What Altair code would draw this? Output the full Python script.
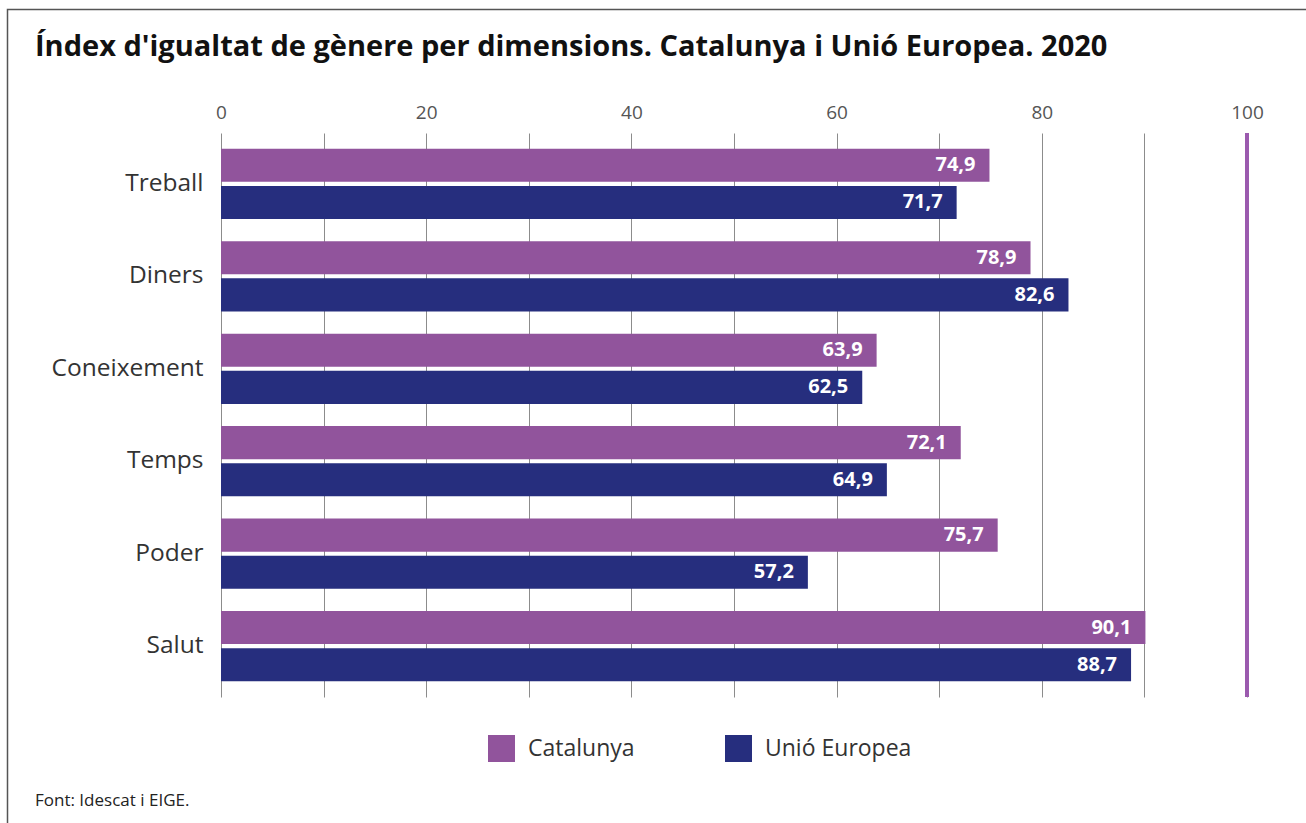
import altair as alt
import pandas as pd

dims = ["Treball", "Diners", "Coneixement", "Temps", "Poder", "Salut"]
series = ["Catalunya", "Unió Europea"]
catalunya = [74.9, 78.9, 63.9, 72.1, 75.7, 90.1]
ue = [71.7, 82.6, 62.5, 64.9, 57.2, 88.7]
x_ticks = [0, 10, 20, 30, 40, 50, 60, 70, 80, 90, 100]
ref_line = [100]
title_text = "Índex d'igualtat de gènere per dimensions. Catalunya i Unió Europea. 2020"
footer_text = "Font: Idescat i EIGE."

rows = []
for d, a, b in zip(dims, catalunya, ue):
    rows.append({"dim": d, "serie": series[0], "v": a, "lab": f"{a:.1f}".replace(".", ",")})
    rows.append({"dim": d, "serie": series[1], "v": b, "lab": f"{b:.1f}".replace(".", ",")})
df = pd.DataFrame(rows)

FONT = "Open Sans"
W, H = 1026, 564
PL, PT = 221, 133

xscale = alt.Scale(domain=[0, 100], nice=False, zero=True)
ysc = alt.Scale(paddingInner=0.24, paddingOuter=0.17)

base = alt.Chart(df)

bars = base.mark_bar().encode(
    x=alt.X("v:Q", scale=xscale,
            axis=alt.Axis(orient="top", values=x_ticks, title=None, domain=False, ticks=False,
                          labelExpr="datum.value % 20 == 0 ? datum.label : ''",
                          labelFlush=False, labelOverlap=False,
                          labelFontSize=19, labelColor="#555555", labelFont=FONT,
                          labelPadding=11, grid=True, gridColor="#8c8c8c", gridWidth=1)),
    y=alt.Y("dim:N", sort=dims, scale=ysc,
            axis=alt.Axis(title=None, domain=False, ticks=False, labelFontSize=24.5,
                          labelColor="#333333", labelFont=FONT, labelPadding=18)),
    yOffset=alt.YOffset("serie:N", sort=series, scale=alt.Scale(paddingInner=0.11)),
    color=alt.Color("serie:N", sort=series,
                    scale=alt.Scale(domain=series, range=["#91549c", "#262e7e"]),
                    legend=alt.Legend(title=None, orient="none", legendX=267, legendY=602,
                                      direction="horizontal", symbolType="square",
                                      symbolSize=729, symbolStrokeWidth=0, symbolOpacity=1,
                                      labelFontSize=23, labelColor="#333333", labelFont=FONT,
                                      labelOffset=13, columnPadding=90)),
)

labels = base.mark_text(align="right", baseline="middle", dx=-14, color="white",
                        fontWeight="bold", fontSize=20, font=FONT).encode(
    x=alt.X("v:Q", scale=xscale),
    y=alt.Y("dim:N", sort=dims, scale=ysc),
    yOffset=alt.YOffset("serie:N", sort=series, scale=alt.Scale(paddingInner=0.11)),
    text="lab:N",
)

rule = alt.Chart(pd.DataFrame({"v": ref_line})).mark_rule(color="#9b5aae", strokeWidth=4).encode(
    x=alt.X("v:Q", scale=xscale)
)

tdf = pd.DataFrame({"t": [title_text]})
title = alt.Chart(tdf).mark_text(align="left", baseline="alphabetic", fontSize=29,
                                 fontWeight="bold", font=FONT, color="#111111").encode(
    x=alt.value(35 - PL), y=alt.value(56 - PT), text="t:N")

fdf = pd.DataFrame({"t": [footer_text]})
footer = alt.Chart(fdf).mark_text(align="left", baseline="alphabetic", fontSize=17,
                                  font=FONT, color="#222222").encode(
    x=alt.value(35 - PL), y=alt.value(806 - PT), text="t:N")

border = alt.Chart(tdf).mark_rect(fill=None, stroke="#555555", strokeWidth=1.5).encode(
    x=alt.value(7.5 - PL), x2=alt.value(1320 - PL), y=alt.value(9.5 - PT), y2=alt.value(840 - PT))

chart = alt.layer(border, bars, labels, rule, title, footer).properties(
    width=W, height=H,
    autosize=alt.AutoSizeParams(type="none"),
    padding={"left": PL, "top": PT, "right": 1306 - PL - W, "bottom": 823 - PT - H},
    background="white",
).configure_view(stroke=None)

chart.save("out.html", embed_options={"renderer": "svg", "actions": False})
